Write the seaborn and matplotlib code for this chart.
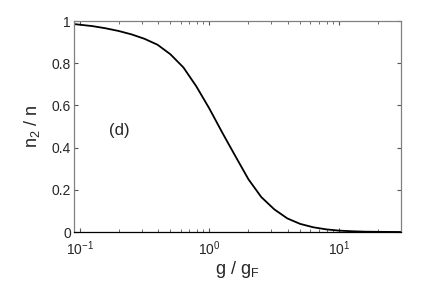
import numpy as np
import pandas as pd
import seaborn as sns
import matplotlib
matplotlib.use("Agg")
import matplotlib.pyplot as plt
from matplotlib.ticker import LogLocator, FixedLocator

# values
g_ratio = [0.09, 0.126, 0.158, 0.2, 0.251, 0.316, 0.398, 0.5, 0.631, 0.794,
           1.0, 1.26, 1.585, 2.0, 2.51, 3.16, 3.98, 5.0, 6.3, 7.94,
           10.0, 12.6, 15.8, 22.4, 30.0]
n2_ratio = [0.986, 0.976, 0.966, 0.953, 0.937, 0.916, 0.888, 0.843, 0.780, 0.690,
            0.585, 0.470, 0.360, 0.250, 0.166, 0.108, 0.065, 0.039, 0.023, 0.013,
            0.007, 0.004, 0.002, 0.001, 0.0005]
y_ticks = [0, 0.2, 0.4, 0.6, 0.8, 1]
y_tick_labels = ["0", "0.2", "0.4", "0.6", "0.8", "1"]
panel_label = "(d)"

df = pd.DataFrame({"g": g_ratio, "n2": n2_ratio})

sns.set_style("ticks")
plt.rcParams["font.family"] = ["Liberation Sans", "DejaVu Sans"]
plt.rcParams["mathtext.default"] = "regular"

fig = plt.figure(figsize=(4.36, 2.81), dpi=100)
ax = fig.add_axes([0.169, 0.174, 0.751, 0.751])

sns.lineplot(data=df, x="g", y="n2", color="black", linewidth=1.3, ax=ax)

ax.set_xscale("log")
ax.set_xlim(0.09, 30)
ax.set_ylim(0, 1)

ax.yaxis.set_major_locator(FixedLocator(y_ticks))
ax.set_yticklabels(y_tick_labels)
ax.xaxis.set_major_locator(LogLocator(base=10, numticks=10))
ax.xaxis.set_minor_locator(LogLocator(base=10, subs=np.arange(2, 10), numticks=20))

ax.tick_params(which="both", direction="in", top=True, right=True,
               labelsize=10, color="#555555")
ax.tick_params(axis="y", pad=2)
ax.tick_params(axis="x", pad=5)
ax.tick_params(which="major", length=3)
ax.tick_params(which="minor", length=2)

for side in ["left", "top", "right"]:
    ax.spines[side].set_color("#808080")
ax.spines["bottom"].set_color("black")
for sp in ax.spines.values():
    sp.set_linewidth(0.9)

ax.set_xlabel("g / g$_F$", fontsize=13, labelpad=1)
ax.set_ylabel("n$_2$ / n", fontsize=13, labelpad=7)

ax.text(0.204, 0.48, panel_label, fontsize=12, ha="center", va="center")

fig.savefig("out.png", dpi=100)
